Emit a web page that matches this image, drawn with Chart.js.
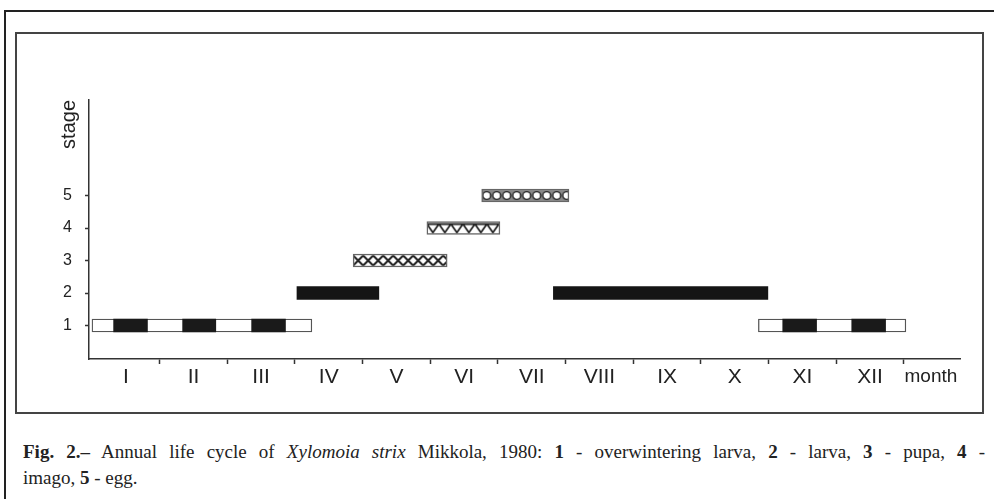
<!DOCTYPE html>
<html>
<head>
<meta charset="utf-8">
<script src="https://cdn.jsdelivr.net/npm/chart.js@4.4.1/dist/chart.umd.min.js"></script>
<style>
  html, body { margin: 0; padding: 0; background: #fff; }
  body { width: 994px; height: 499px; position: relative; overflow: hidden; }
  #outer { position: absolute; left: 4px; top: 10px; width: 1000px; height: 500px;
           border-left: 2px solid #222; border-top: 2px solid #222; }
  #inner { position: absolute; left: 15px; top: 32px; width: 965px; height: 378px;
           border: 2px solid #444; }
  #chart { position: absolute; left: 0; top: 0; }
  .cap { position: absolute; left: 23px; width: 962px; font-family: "Liberation Serif", "Times New Roman", serif;
         font-size: 19px; color: #222; line-height: 24px; }
  #cap1 { top: 440px; text-align: justify; text-align-last: justify; white-space: nowrap; }
  #cap2 { top: 466px; }
</style>
</head>
<body>
<div id="outer"></div>
<div id="inner"></div>
<canvas id="chart" width="994" height="420"></canvas>
<div class="cap" id="cap1"><b>Fig. 2.–</b> Annual life cycle of <i>Xylomoia strix</i> Mikkola, 1980: <b>1</b> - overwintering larva, <b>2</b> - larva, <b>3</b> - pupa, <b>4</b> -</div>
<div class="cap" id="cap2">imago, <b>5</b> - egg.</div>
<script>
// stages on the y axis, months (0..12) on the x axis
const stageTicks = [1, 2, 3, 4, 5];
const monthLabels = ['I', 'II', 'III', 'IV', 'V', 'VI', 'VII', 'VIII', 'IX', 'X', 'XI', 'XII'];

// periods, in months from the start of January
const overwinterPeriods = [[0, 3.25], [9.85, 12.03]];
const overwinterDarkBands = [[0.32, 0.82], [1.34, 1.83], [2.36, 2.86], [10.21, 10.71], [11.23, 11.73]];
const larvaPeriods = [[3.03, 4.24], [6.82, 9.99]];
const pupaPeriod = [3.86, 5.25];
const imagoPeriod = [4.95, 6.03];
const eggPeriod = [5.76, 7.05];

function makeTile(w, h, draw) {
    const c = document.createElement('canvas');
    c.width = w;
    c.height = h;
    const g = c.getContext('2d');
    g.fillStyle = '#fff';
    g.fillRect(0, 0, w, h);
    draw(g, w, h);
    return document.getElementById('chart').getContext('2d').createPattern(c, 'repeat');
}

const crossTile = makeTile(10, 13, (g, w, h) => {
    g.strokeStyle = '#222';
    g.lineWidth = 2;
    g.beginPath();
    g.moveTo(0, 1.5); g.lineTo(w, h - 1.5);
    g.moveTo(w, 1.5); g.lineTo(0, h - 1.5);
    g.stroke();
});

const triangleTile = makeTile(12, 13, (g, w, h) => {
    g.strokeStyle = '#222';
    g.lineWidth = 1.8;
    g.beginPath();
    g.moveTo(0, 2.5); g.lineTo(w, 2.5);
    g.moveTo(0, 2.5); g.lineTo(w / 2, h - 2); g.lineTo(w, 2.5);
    g.stroke();
});

const circleTile = makeTile(10, 13, (g, w, h) => {
    g.fillStyle = '#888';
    g.fillRect(0, 0, w, h);
    g.fillStyle = '#fff';
    g.beginPath();
    g.arc(w / 2, h / 2, 3.9, 0, Math.PI * 2);
    g.fill();
    g.strokeStyle = '#222';
    g.lineWidth = 1.4;
    g.stroke();
});

// line the pattern tiles up with the top-left corner of their bar
const patternAlign = {
    id: 'patternAlign',
    beforeDatasetsDraw(chart) {
        chart.data.datasets.forEach((ds, i) => {
            if (!ds.tiled) return;
            const bar = chart.getDatasetMeta(i).data[0];
            const top = bar.y - bar.height / 2;
            const left = Math.min(bar.x, bar.base);
            ds.backgroundColor.setTransform(new DOMMatrix([1, 0, 0, 1, left, top]));
        });
    }
};

const monthTicks = [];
for (let m = 1; m <= 12; m++) monthTicks.push(m);
monthLabels.forEach((_, i) => monthTicks.push(i + 0.5));
monthTicks.push(12.4);
monthTicks.sort((a, b) => a - b);

const span = (periods, stage) => periods.map(p => ({ x: p, y: stage }));

new Chart(document.getElementById('chart'), {
    type: 'bar',
    data: {
        datasets: [
            { label: 'overwintering larva (dark)', data: span(overwinterDarkBands, 1),
              backgroundColor: '#1a1a1a', borderWidth: 0 },
            { label: 'overwintering larva', data: span(overwinterPeriods, 1),
              backgroundColor: '#fff', borderColor: '#555', borderWidth: 1.3 },
            { label: 'larva', data: span(larvaPeriods, 2),
              backgroundColor: '#151515', borderWidth: 0 },
            { label: 'pupa', data: span([pupaPeriod], 3), tiled: true,
              backgroundColor: crossTile, borderColor: '#666', borderWidth: 1.5 },
            { label: 'imago', data: span([imagoPeriod], 4), tiled: true,
              backgroundColor: triangleTile, borderColor: '#666', borderWidth: 1.5 },
            { label: 'egg', data: span([eggPeriod], 5), tiled: true,
              backgroundColor: circleTile, borderColor: '#666', borderWidth: 1.5 }
        ]
    },
    options: {
        responsive: false,
        animation: false,
        indexAxis: 'y',
        datasets: {
            bar: { grouped: false, barThickness: 13, borderSkipped: false }
        },
        layout: { padding: { left: 49, right: 34, top: 100, bottom: 31 } },
        plugins: { legend: { display: false }, tooltip: { enabled: false } },
        scales: {
            x: {
                type: 'linear',
                position: 'bottom',
                offset: false,
                min: -0.044,
                max: 12.83,
                afterBuildTicks: s => { s.ticks = monthTicks.map(v => ({ value: v })); },
                afterFit: s => { s.height = 30; },
                border: { display: true, color: '#333', width: 1.5 },
                grid: {
                    offset: false,
                    drawOnChartArea: false,
                    drawTicks: true,
                    tickLength: 5,
                    tickWidth: 1.5,
                    tickColor: c => (c.tick && Number.isInteger(c.tick.value)) ? '#333' : 'rgba(0,0,0,0)'
                },
                ticks: {
                    autoSkip: false,
                    maxRotation: 0,
                    padding: 1,
                    color: '#222',
                    font: c => ({ family: 'Liberation Sans, Arial, sans-serif',
                                  size: (c.tick && c.tick.value > 12) ? 19 : 21 }),
                    callback: v => {
                        if (Number.isInteger(v)) return '';
                        if (v > 12) return 'month';
                        return monthLabels[Math.floor(v)];
                    }
                }
            },
            y: {
                type: 'linear',
                position: 'left',
                offset: false,
                min: -0.031,
                max: 7.94,
                afterBuildTicks: s => { s.ticks = stageTicks.map(v => ({ value: v })); },
                afterFit: s => { s.width = 40; },
                border: { display: true, color: '#333', width: 1.5 },
                grid: { offset: false, drawOnChartArea: false, drawTicks: true, tickLength: 4, tickWidth: 1.5, tickColor: '#333' },
                ticks: {
                    padding: 13,
                    color: '#222',
                    font: { family: 'Liberation Sans, Arial, sans-serif', size: 16 }
                },
                title: {
                    display: true,
                    text: 'stage',
                    align: 'end',
                    color: '#222',
                    padding: { top: 8, bottom: 0 },
                    font: { family: 'Liberation Sans, Arial, sans-serif', size: 20 }
                }
            }
        }
    },
    plugins: [patternAlign]
});
</script>
</body>
</html>
